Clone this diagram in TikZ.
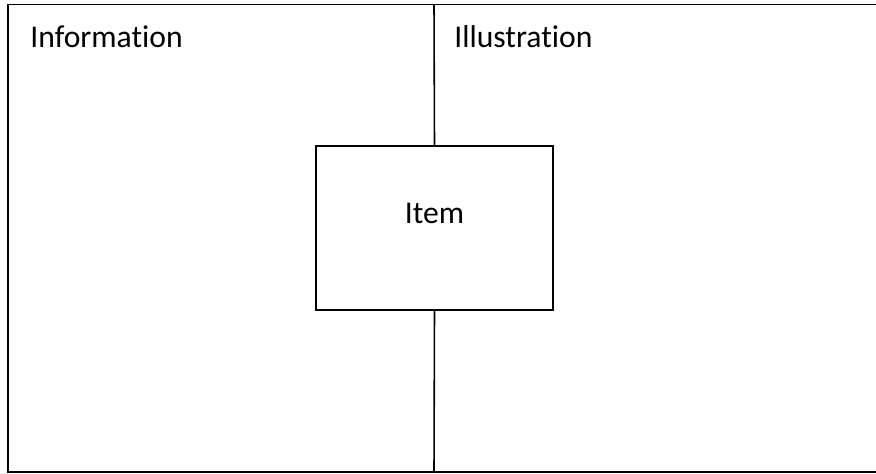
\documentclass[tikz,border=0pt]{standalone}
\usepackage{fontspec}
\setmainfont{Carlito}[Ligatures=NoCommon]
\usepackage{tikz}
\usetikzlibrary{positioning}

\begin{document}
\begin{tikzpicture}[
    frame/.style={draw=black, line width=0.9pt},
    itembox/.style={rectangle, draw=black, line width=0.9pt, fill=white, minimum width=4.74cm, minimum height=3.28cm, text height=0.4cm, text depth=0.56cm, font=\fontsize{18}{21}\selectfont},
    heading/.style={anchor=base west, inner sep=0pt, font=\fontsize{18}{21}\selectfont}
]
\useasboundingbox (0,0) rectangle (17.52,9.48);

% Outer frame
\draw[frame] (0.16,0.04) rectangle (17.8,9.39);

% Two column headings
\node[heading] (info) at (0.6,8.52) {Information};
\node[heading] (illus) at (9.08,8.52) {Illustration};

% Item in the middle
\node[itembox] (item) at (8.69,4.92) {Item};

% Divider
\coordinate (divtop) at (8.68,9.39);
\coordinate (divbot) at (8.68,0.04);
\draw[frame] (divtop) -- (item.north);
\draw[frame] (item.south) -- (divbot);
\end{tikzpicture}
\end{document}
